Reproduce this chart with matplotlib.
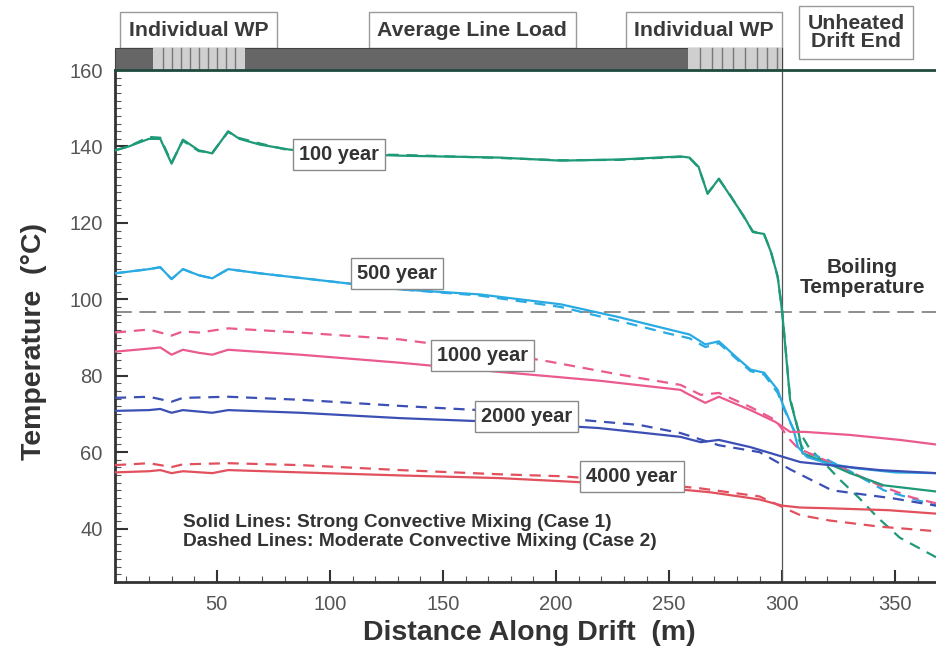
import matplotlib
matplotlib.use("Agg")
import matplotlib.pyplot as plt
from matplotlib.patches import Rectangle
from matplotlib.ticker import MultipleLocator

plt.rcParams['font.family'] = ['Liberation Sans', 'DejaVu Sans']

# ---- data: distance (m) / temperature (C) ----
x100_s = [5, 11, 20, 25, 30, 35, 42, 48, 55, 60, 69, 82, 100, 131, 175, 202, 228, 255, 259, 263,
          267, 272, 277, 283, 287, 292, 295, 298, 300, 303.5, 307, 309, 320, 330, 345, 368]
t100_s = [139, 140, 142, 142, 135.5, 141.8, 139, 138.2, 144, 142, 140.5, 139.2, 138.2, 137.6, 137.1,
          136.3, 136.6, 137.4, 137.1, 134.7, 127.6, 131.6, 127.1, 121.8, 117.6, 117.1, 112.4, 106,
          96.6, 73.7, 65.8, 59.7, 57.1, 54.5, 51.3, 49.7]
x100_d = [5, 11, 20, 25, 30, 35, 42, 48, 55, 60, 69, 82, 100, 131, 175, 202, 228, 255, 259, 263,
          267, 272, 277, 283, 287, 292, 295, 298, 300, 303.5, 307, 312, 318, 326, 334, 342, 352, 368]
t100_d = [139, 140, 142.5, 142.3, 135.8, 141.5, 138.8, 138.4, 143.8, 142.2, 140.8, 139.0, 138.0,
          137.8, 137.0, 136.4, 136.5, 137.3, 137.0, 134.5, 127.8, 131.4, 127.3, 121.6, 117.8, 116.9,
          112.6, 105.8, 96.8, 74, 66, 61, 57.5, 52.5, 48, 43, 37.6, 32.5]

x500_s = [5, 20, 25, 30, 35, 42, 48, 55, 69, 100, 131, 166, 202, 228, 250, 259, 266, 272, 280, 286,
          292, 298, 300, 305, 307, 311, 320, 332, 350, 368]
t500_s = [106.8, 107.9, 108.4, 105.3, 107.9, 106.3, 105.5, 107.9, 106.8, 104.7, 102.6, 101.3, 98.7,
          95.3, 92.1, 90.8, 88.2, 89, 84.7, 81.6, 80.8, 76.3, 72.9, 65.8, 61.3, 58.7, 57.1, 55.8,
          54.7, 54.5]
x500_d = [5, 20, 25, 30, 35, 42, 48, 55, 69, 100, 131, 166, 202, 228, 250, 259, 266, 272, 280, 286,
          292, 298, 301, 305, 310, 320, 330, 345, 368]
t500_d = [106.8, 107.9, 108.4, 105.3, 107.9, 106.3, 105.5, 107.9, 106.8, 104.7, 102.6, 101.0, 98.0,
          94.3, 91.0, 89.8, 87.5, 88.5, 84.3, 81.2, 80.3, 75.5, 71, 66, 60, 58, 55, 50, 46]

x1000_s = [5, 20, 25, 30, 35, 42, 48, 55, 87, 131, 175, 219, 255, 259, 266, 272, 286, 297, 303.5,
           310, 330, 352, 368]
t1000_s = [86.3, 87.1, 87.4, 85.5, 86.8, 86, 85.5, 86.8, 85.5, 83.4, 81, 78.7, 76.3, 75, 72.9, 74.5,
           71, 67.9, 65.3, 65.3, 64.5, 63.2, 62.0]
x1000_d = [5, 20, 30, 35, 42, 55, 87, 131, 166, 197, 228, 255, 264, 272, 286, 297, 303.5, 307, 322,
           343, 357, 368]
t1000_d = [91.3, 92.1, 90.5, 91.6, 91.3, 92.4, 91.3, 89.5, 86.8, 83.7, 80.3, 77.6, 75, 75.5, 71.8,
           68.4, 63.2, 61, 57.1, 51.3, 48.2, 46.6]

x2000_s = [5, 20, 25, 30, 35, 48, 55, 87, 131, 175, 219, 255, 264, 272, 286, 299, 308, 321, 343, 368]
t2000_s = [70.8, 71, 71.3, 70.3, 71, 70.3, 71, 70.3, 68.9, 67.9, 66.3, 64, 62.6, 63.2, 61.3, 59, 57.4,
           56.6, 55.3, 54.5]
x2000_d = [5, 20, 30, 35, 55, 87, 131, 166, 202, 237, 255, 272, 290, 303.5, 322, 349, 368]
t2000_d = [74.2, 74.5, 73.2, 74.2, 74.5, 73.7, 72.1, 71, 68.9, 67.1, 65, 61.8, 60, 55.5, 50, 47.9, 46]

x4000_s = [5, 20, 25, 30, 35, 48, 55, 87, 131, 175, 202, 237, 259, 268, 281, 290, 300, 308, 321, 347,
           368]
t4000_s = [54.7, 55, 55.3, 54.5, 55, 54.5, 55.3, 54.7, 53.9, 53.2, 52.4, 51.3, 50, 49.5, 48.4, 47.6,
           46, 45.5, 45.3, 44.8, 43.9]
x4000_d = [5, 20, 30, 35, 55, 87, 131, 175, 202, 228, 264, 290, 303.5, 308, 321, 343, 368]
t4000_d = [56.6, 57.1, 56.1, 56.8, 57.1, 56.6, 55.3, 54.2, 53.7, 52.6, 50.5, 48.4, 44.7, 43.5, 42.1,
           40.5, 39.3]

boiling_temp = 96.6
heated_end = 300

# waste package boundaries in the two "Individual WP" sections (m)
wp_left = [22, 26, 30, 34, 38, 42, 46, 50, 54, 58, 62.5]
wp_right = [258.5, 263.7, 269, 273.5, 278.3, 283.6, 289, 293.4, 297.8, 300]

labels = ['100 year', '500 year', '1000 year', '2000 year', '4000 year']
label_pos = [(104, 138), (129.6, 106.8), (167.7, 85.3), (187, 69.2), (233.6, 53.7)]

C_GREEN = '#1f9a78'
C_CYAN = '#2aaae2'
C_PINK = '#ea5a8e'
C_BLUE = '#3b4fb4'
C_RED = '#e2505e'

fig = plt.figure(figsize=(9.36, 6.49), dpi=100)
ax = fig.add_axes([0.1229, 0.1032, 0.8771, 0.7888])

dash = (0, (5, 3.5))
curves = [
    (x100_s, t100_s, x100_d, t100_d, C_GREEN),
    (x500_s, t500_s, x500_d, t500_d, C_CYAN),
    (x1000_s, t1000_s, x1000_d, t1000_d, C_PINK),
    (x2000_s, t2000_s, x2000_d, t2000_d, C_BLUE),
    (x4000_s, t4000_s, x4000_d, t4000_d, C_RED),
]
for xs, ts, xd, td, c in curves:
    ax.plot(xd, td, color=c, lw=1.6, linestyle=dash, zorder=3)
    ax.plot(xs, ts, color=c, lw=1.6, zorder=4)

# boiling line and end of heated section
ax.axhline(boiling_temp, color='#6f6f6f', lw=1.1, linestyle=(0, (11, 5)), zorder=2)
ax.axvline(heated_end, color='#555555', lw=0.9, zorder=2)
ax.plot([heated_end, heated_end], [160, 165.8], color='#555555', lw=0.9, clip_on=False)

box = dict(boxstyle='square,pad=0.3', facecolor='white', edgecolor='#8a8a8a', lw=1.0)
for lab, (lx, ly) in zip(labels, label_pos):
    ax.text(lx, ly, lab, ha='center', va='center', fontsize=14.4, fontweight='bold',
            color='#333333', bbox=box, zorder=6)

ax.text(335.5, 105.8, 'Boiling\nTemperature', ha='center', va='center', fontsize=15,
        fontweight='bold', color='#333333', linespacing=1.05)
ax.text(35, 39.2, 'Solid Lines: Strong Convective Mixing (Case 1)\n'
        'Dashed Lines: Moderate Convective Mixing (Case 2)', ha='left', va='center',
        fontsize=13.8, fontweight='bold', color='#333333', linespacing=1.15)

# top bar showing the waste package layout
bar_top = 165.8
ax.add_patch(Rectangle((5, 160), heated_end - 5, bar_top - 160, facecolor='#666666',
                       edgecolor='#444444', lw=0.8, clip_on=False, zorder=5))
for edges in (wp_left, wp_right):
    ax.add_patch(Rectangle((edges[0], 160), edges[-1] - edges[0], bar_top - 160,
                           facecolor='#cfcfcf', edgecolor='none', clip_on=False, zorder=5))
    for e in edges[1:-1]:
        ax.plot([e, e], [160, bar_top], color='#777777', lw=1.0, clip_on=False, zorder=6)
ax.plot([5, 368], [160, 160], color='#1f4b3f', lw=2.0, clip_on=False, zorder=7)

tbox = dict(boxstyle='square,pad=0.4', facecolor='white', edgecolor='#9a9a9a', lw=1.0)
ax.text(42, 170.4, 'Individual WP', ha='center', va='center', fontsize=15.3, fontweight='bold',
        color='#3a3a3a', bbox=tbox, clip_on=False)
ax.text(163, 170.4, 'Average Line Load', ha='center', va='center', fontsize=15.3,
        fontweight='bold', color='#3a3a3a', bbox=tbox, clip_on=False)
ax.text(265.5, 170.4, 'Individual WP', ha='center', va='center', fontsize=15.3, fontweight='bold',
        color='#3a3a3a', bbox=tbox, clip_on=False)
ax.text(332.7, 169.9, 'Unheated\nDrift End', ha='center', va='center', fontsize=15.3,
        fontweight='bold', color='#3a3a3a', linespacing=0.92,
        bbox=dict(boxstyle='square,pad=0.38', facecolor='white', edgecolor='#9a9a9a', lw=1.0),
        clip_on=False)

ax.set_xlim(5, 368)
ax.set_ylim(26, 160)
ax.xaxis.set_major_locator(MultipleLocator(50))
ax.xaxis.set_minor_locator(MultipleLocator(10))
ax.yaxis.set_minor_locator(MultipleLocator(2))
ax.set_yticks([40, 60, 80, 100, 120, 140, 160])
ax.tick_params(which='major', direction='in', length=9, width=1.5, color='#333333',
               labelsize=14.5, labelcolor='#555555', pad=9)
ax.tick_params(which='minor', direction='in', length=4, width=0.8, color='#555555')
ax.tick_params(axis='x', top=False)
ax.tick_params(axis='y', right=False)
for s in ['top', 'right']:
    ax.spines[s].set_visible(False)
for s in ['left', 'bottom']:
    ax.spines[s].set_linewidth(2.0)
    ax.spines[s].set_color('#333333')

ax.set_xlabel('Distance Along Drift  (m)', fontsize=20.5, fontweight='bold', color='#333333')
ax.xaxis.set_label_coords(0.505, -0.075)
ax.set_ylabel('Temperature  (\u00b0C)', fontsize=20.5, fontweight='bold', color='#333333')
ax.yaxis.set_label_coords(-0.083, 0.47)

fig.savefig('out.png', dpi=100)
